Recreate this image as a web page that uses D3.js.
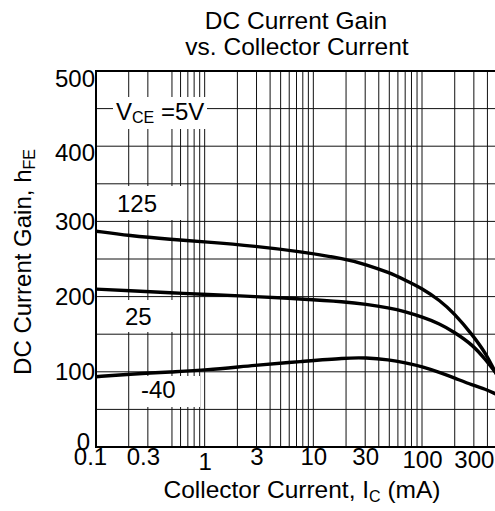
<!DOCTYPE html>
<html>
<head>
<meta charset="utf-8">
<script src="https://cdn.jsdelivr.net/npm/d3@7"></script>
<style>
  body { margin: 0; background: #fff; }
  text { font-family: "Liberation Sans", Arial, sans-serif; fill: #000; }
</style>
</head>
<body>
<div class="chart"></div>
<script>
(function() {
  'use strict';

  // collector current (mA) sample points
  var ic = [0.1, 0.2, 0.5, 1, 3, 7.5, 20, 30, 50, 70, 100, 146, 197, 292, 385, 470, 500];

  // hFE per temperature
  var h125 = [287, 281, 276, 273, 267, 260, 250, 243, 232, 222, 211, 195, 178, 149, 125, 100, 93];
  var h25 = [210, 208, 205, 203, 200, 197, 193, 190, 185, 180, 173, 164, 153, 136, 116, 100, 95];
  var hm40 = [93.5, 96.7, 100, 102, 109, 113.5, 118.5, 118.8, 116, 112, 107, 99, 92, 82, 77, 71, 69];

  var xTicks = [0.1, 0.3, 1, 3, 10, 30, 100, 300];
  var xTickLabels = ['0.1', '0.3', '1', '3', '10', '30', '100', '300'];
  var yTicks = [0, 100, 200, 300, 400, 500];

  // grid lines of the log paper (no 0.4 line in the first decade)
  var xGrid = [0.2, 0.3, 0.5, 0.6, 0.7, 0.8, 0.9, 1,
    2, 3, 4, 5, 6, 7, 8, 9, 10,
    20, 30, 40, 50, 60, 70, 80, 90, 100,
    200, 300, 400];
  var yGrid = [50, 100, 150, 200, 250, 300, 350, 400, 450];

  var W = 495, H = 511;
  var left = 96, top = 71, bottom = 447;
  var right = left + 108.67 * Math.log10(500 / 0.1);

  var svg = d3.select('.chart')
    .append('svg')
    .attr('width', W)
    .attr('height', H);

  var x = d3.scaleLog().domain([0.1, 500]).range([left, right]);
  var y = d3.scaleLinear().domain([0, 500]).range([bottom, top]);

  // grid
  svg.append('g')
    .selectAll('line')
    .data(xGrid)
    .enter().append('line')
    .attr('x1', function(d) { return x(d); })
    .attr('x2', function(d) { return x(d); })
    .attr('y1', top)
    .attr('y2', bottom)
    .attr('stroke', '#111')
    .attr('stroke-width', 1);

  svg.append('g')
    .selectAll('line')
    .data(yGrid)
    .enter().append('line')
    .attr('x1', left)
    .attr('x2', right)
    .attr('y1', function(d) { return y(d); })
    .attr('y2', function(d) { return y(d); })
    .attr('stroke', '#111')
    .attr('stroke-width', 1);

  // white boxes behind the in-plot labels
  var boxes = [
    [113, 97, 94, 32],
    [97, 186, 88, 34],
    [123, 300, 54, 32],
    [135, 376, 65, 31]
  ];
  boxes.forEach(function(b) {
    svg.append('rect')
      .attr('x', b[0]).attr('y', b[1])
      .attr('width', b[2]).attr('height', b[3])
      .attr('fill', '#fff');
  });

  // frame: top, left, bottom
  svg.append('line').attr('x1', left).attr('x2', right).attr('y1', top).attr('y2', top)
    .attr('stroke', '#000').attr('stroke-width', 2);
  svg.append('line').attr('x1', left).attr('x2', left).attr('y1', top - 1).attr('y2', bottom + 1)
    .attr('stroke', '#000').attr('stroke-width', 2);
  svg.append('line').attr('x1', left).attr('x2', right).attr('y1', bottom).attr('y2', bottom)
    .attr('stroke', '#000').attr('stroke-width', 2);

  // curves
  svg.append('clipPath').attr('id', 'plot-clip')
    .append('rect')
    .attr('x', left).attr('y', top)
    .attr('width', right - left).attr('height', bottom - top);

  var line = d3.line()
    .x(function(d) { return x(d[0]); })
    .y(function(d) { return y(d[1]); })
    .curve(d3.curveBasis);

  [h125, h25, hm40].forEach(function(series) {
    svg.append('path')
      .datum(d3.zip(ic, series))
      .attr('clip-path', 'url(#plot-clip)')
      .attr('fill', 'none')
      .attr('stroke', '#000')
      .attr('stroke-width', 3.4)
      .attr('d', line);
  });

  // axes (labels only, the grid does the rest)
  var xAxis = svg.append('g')
    .attr('transform', 'translate(0,' + bottom + ')')
    .call(d3.axisBottom(x).tickValues(xTicks).tickSize(0)
      .tickFormat(function(d, i) { return xTickLabels[i]; }));
  xAxis.select('.domain').remove();
  xAxis.selectAll('text')
    .attr('font-size', 24)
    .attr('font-family', '"Liberation Sans", Arial, sans-serif')
    .attr('dy', null)
    .attr('y', function(d) {
      if (d === 1) return 23;
      if (d >= 100) return 21;
      return 18;
    })
    .attr('dx', function(d) {
      if (d === 0.1) return -6;
      if (d === 0.3) return -5;
      return 0;
    });

  var yAxis = svg.append('g')
    .attr('transform', 'translate(' + left + ',0)')
    .call(d3.axisLeft(y).tickValues(yTicks).tickSize(0));
  yAxis.select('.domain').remove();
  yAxis.selectAll('text')
    .attr('font-size', 24)
    .attr('font-family', '"Liberation Sans", Arial, sans-serif')
    .attr('x', function(d) { return d === 0 ? -6 : -1; })
    .attr('dy', null)
    .attr('y', function(d) {
      if (d === 500) return 15;
      if (d === 400) return 14;
      if (d === 0) return 2;
      return 8;
    });

  // titles
  var title = svg.append('text')
    .attr('text-anchor', 'middle')
    .attr('font-size', 24.5);
  title.append('tspan').attr('x', 296).attr('y', 29).text('DC Current Gain');
  title.append('tspan').attr('x', 297).attr('y', 55).text('vs. Collector Current');

  var xLabel = svg.append('text')
    .attr('x', 302)
    .attr('y', 498)
    .attr('text-anchor', 'middle')
    .attr('font-size', 24.5);
  xLabel.append('tspan').text('Collector Current, I');
  xLabel.append('tspan').attr('font-size', 16).attr('dy', 4).text('C');
  xLabel.append('tspan').attr('dy', -4).text(' (mA)');

  var yLabel = svg.append('text')
    .attr('transform', 'translate(31,262) rotate(-90)')
    .attr('text-anchor', 'middle')
    .attr('font-size', 24);
  yLabel.append('tspan').text('DC Current Gain, h');
  yLabel.append('tspan').attr('font-size', 16).attr('dy', 4).text('FE');

  // in-plot labels
  var vce = svg.append('text')
    .attr('x', 116)
    .attr('y', 120)
    .attr('font-size', 24);
  vce.append('tspan').text('V');
  vce.append('tspan').attr('font-size', 16).attr('dy', 3).text('CE');
  vce.append('tspan').attr('dy', -3).text(' =5V');

  svg.append('text').attr('x', 117).attr('y', 212).attr('font-size', 24).text('125');
  svg.append('text').attr('x', 125).attr('y', 325).attr('font-size', 24).text('25');
  svg.append('text').attr('x', 141).attr('y', 398).attr('font-size', 24).text('-40');

}());
</script>
</body>
</html>
